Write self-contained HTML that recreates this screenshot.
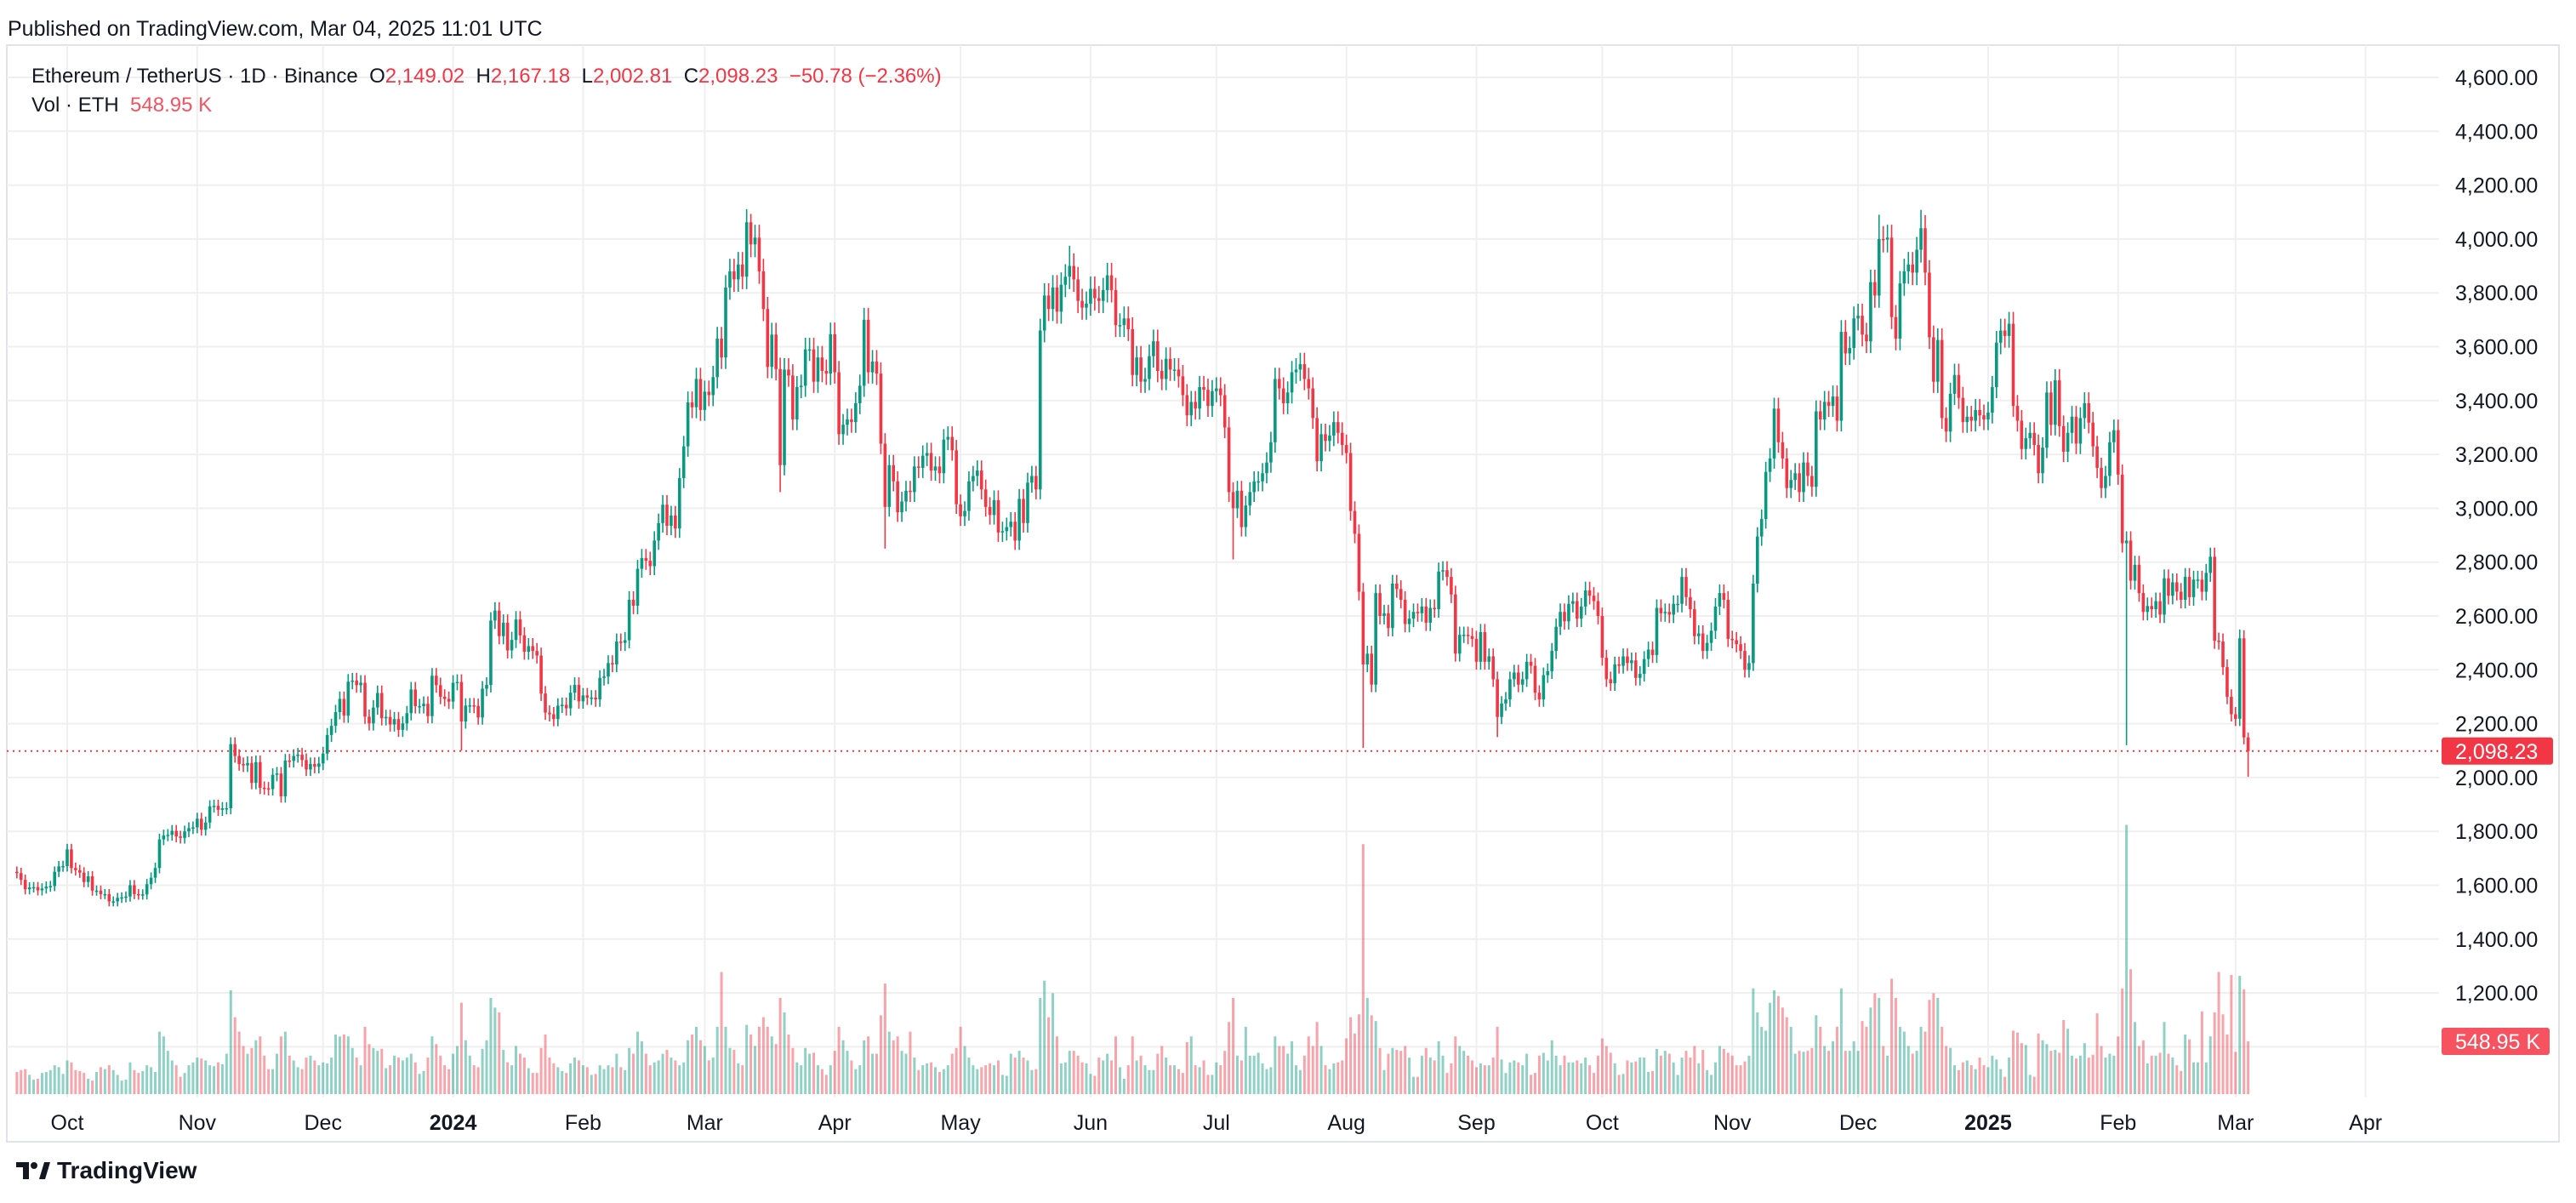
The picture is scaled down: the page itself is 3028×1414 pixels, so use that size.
<!DOCTYPE html>
<html><head><meta charset="utf-8">
<style>
html,body{margin:0;padding:0;background:#fff;}
body{width:3028px;height:1414px;overflow:hidden;position:relative;font-family:"Liberation Sans",Arial,sans-serif;color:#131722;}
#hdr{position:absolute;left:9px;top:20px;font-size:25px;}
#legend1{position:absolute;left:37px;top:76px;font-size:24px;white-space:nowrap;}
#legend2{position:absolute;left:37px;top:110px;font-size:24px;white-space:nowrap;}
.r{color:#F23645;}
svg{position:absolute;left:0;top:0;}
#footer{position:absolute;left:19px;top:1360px;font-size:28px;font-weight:bold;display:flex;align-items:center;gap:8px;}
</style></head>
<body>
<div id="hdr">Published on TradingView.com, Mar 04, 2025 11:01 UTC</div>
<svg id="chart" width="3028" height="1414"></svg>
<div id="legend1">Ethereum / TetherUS · 1D · Binance&nbsp;&nbsp;O<span class="r">2,149.02</span>&nbsp;&nbsp;H<span class="r">2,167.18</span>&nbsp;&nbsp;L<span class="r">2,002.81</span>&nbsp;&nbsp;C<span class="r">2,098.23</span>&nbsp;&nbsp;<span class="r">−50.78 (−2.36%)</span></div>
<div id="legend2">Vol · ETH&nbsp;&nbsp;<span style="color:#F7525F">548.95 K</span></div>
<div id="footer"><svg width="40" height="24" style="position:static" viewBox="0 0 40 24"><rect x="0" y="2" width="15" height="6" fill="#131722"/><rect x="8" y="2" width="7" height="20" fill="#131722"/><circle cx="21" cy="6" r="4" fill="#131722"/><polygon points="27,22 33,2 40,2 34,22" fill="#131722"/></svg><span>TradingView</span></div>
<script>
// ---- data (closes in USDT, volume in K ETH), daily from 2023-09-19 ----
const closesSep23=[1645,1620,1585,1592,1593,1581,1588,1595,1597,1650,1670,1671];
const closesOct23=[1733,1664,1656,1647,1612,1633,1580,1580,1567,1567,1540,1540,1553,1555,1558,1600,1567,1565,1566,1604,1628,1664,1770,1785,1787,1802,1781,1776,1800,1812,1815];
const closesNov23=[1847,1806,1833,1893,1895,1880,1886,1886,2124,2080,2050,2045,2054,1980,2057,1962,1960,1957,2010,2015,1930,2063,2062,2080,2085,2065,2030,2050,2040,2052];
const closesDec23=[2089,2158,2192,2243,2292,2230,2356,2360,2343,2352,2226,2201,2260,2314,2220,2225,2197,2217,2177,2201,2239,2327,2265,2265,2274,2228,2378,2343,2300,2292,2282];
const closesJan24=[2352,2355,2208,2267,2268,2266,2223,2330,2344,2583,2620,2525,2575,2472,2511,2587,2528,2467,2488,2470,2453,2312,2241,2235,2217,2267,2270,2257,2315,2344,2283];
const closesFeb24=[2305,2297,2297,2290,2370,2375,2425,2420,2505,2500,2510,2660,2638,2775,2815,2805,2785,2880,2945,3013,2935,2973,2925,3112,3230,3393,3375,3480,3365];
const closesMar24=[3433,3420,3487,3630,3560,3820,3880,3850,3905,3860,4062,3980,4005,3880,3740,3525,3645,3517,3160,3515,3493,3330,3450,3455,3590,3590,3470,3560,3510,3500,3646];
const closesApr24=[3505,3275,3310,3330,3320,3390,3455,3700,3505,3545,3500,3240,3005,3160,3100,2985,3025,3065,3060,3155,3150,3195,3205,3140,3155,3130,3255,3265,3215,3015];
const closesMay24=[2970,2990,3100,3120,3140,3070,3005,2975,3030,2910,2915,2930,2950,2880,3035,2945,3095,3120,3070,3660,3790,3740,3820,3730,3830,3860,3900,3850,3770,3745,3760];
const closesJun24=[3815,3780,3770,3810,3865,3810,3680,3680,3705,3665,3495,3560,3470,3480,3565,3620,3510,3480,3555,3515,3515,3490,3420,3345,3395,3370,3450,3440,3380,3435];
const closesJul24=[3445,3420,3300,3060,3000,3065,2930,3010,3060,3100,3100,3130,3170,3245,3480,3445,3390,3430,3505,3515,3535,3480,3445,3335,3175,3275,3250,3270,3320,3280,3235];
const closesAug24=[3205,2990,2905,2690,2420,2460,2345,2685,2600,2610,2555,2720,2700,2660,2570,2590,2615,2610,2635,2575,2630,2625,2765,2770,2745,2680,2460,2530,2530,2525,2515];
const closesSep24=[2430,2540,2430,2450,2365,2225,2275,2290,2365,2390,2345,2365,2430,2415,2315,2290,2380,2395,2470,2560,2615,2580,2645,2655,2590,2635,2695,2675,2655,2600];
const closesOct24=[2445,2365,2350,2420,2415,2450,2425,2435,2370,2385,2440,2475,2455,2630,2610,2615,2605,2645,2645,2745,2670,2625,2525,2535,2470,2500,2545,2635,2685,2660,2515];
const closesNov24=[2510,2495,2470,2400,2425,2720,2895,2960,3135,3185,3370,3245,3185,3075,3105,3130,3060,3170,3120,3080,3360,3330,3395,3380,3415,3325,3655,3575,3595,3705];
const closesDec24=[3715,3645,3620,3840,3790,4000,3998,4005,3710,3630,3835,3880,3905,3875,3960,4040,3875,3635,3470,3625,3335,3285,3425,3495,3410,3320,3340,3325,3365,3345,3330];
const closesJan25=[3355,3450,3615,3660,3640,3685,3380,3325,3220,3260,3280,3235,3130,3225,3430,3310,3475,3305,3210,3280,3340,3240,3335,3390,3318,3230,3150,3075,3120,3245,3290];
const closesFeb25=[3125,2870,2880,2731,2790,2685,2615,2637,2625,2655,2605,2740,2675,2725,2690,2660,2745,2670,2735,2735,2690,2760,2820,2508,2505,2410,2300,2235];
const closesMar25=[2218,2517,2149,2098.23];
const firstOpen=1650;
const volSep23=[230,250,260,200,150,160,220,230,250,300,280,210];
const volOct23=[350,330,250,240,220,160,140,230,280,260,300,250,200,140,150,330,250,220,240,300,280,230,650,600,450,350,300,180,220,300,330];
const volNov23=[380,370,350,300,290,330,310,420,1080,800,650,500,420,480,560,600,400,260,260,420,600,650,400,350,280,260,380,400,350,300];
const volDec23=[330,320,380,620,600,620,600,480,380,300,700,520,480,450,470,270,300,400,380,350,380,420,330,210,240,380,600,520,400,300,260];
const volJan24=[420,500,950,560,400,300,280,470,560,1000,900,850,460,330,300,500,420,380,270,220,220,480,620,380,320,280,240,220,320,380,350];
const volFeb24=[300,280,200,210,300,260,300,280,420,280,250,480,420,650,550,420,300,330,350,420,460,380,350,300,330,560,620,700,560];
const volMar24=[500,350,380,700,1270,700,480,460,320,300,720,620,500,700,800,700,600,520,1000,850,620,480,330,300,480,420,430,300,260,200,300];
const volApr24=[450,700,560,450,350,260,300,560,600,420,420,820,1150,650,560,600,450,420,650,380,250,300,320,330,280,230,260,300,420,480];
const volMay24=[700,500,380,300,260,280,300,320,300,350,200,190,420,380,450,380,350,250,260,1000,1180,800,1050,600,320,330,450,450,400,330,320];
const volJun24=[210,190,380,350,420,350,600,280,160,300,600,350,400,300,250,250,420,500,380,300,300,260,220,540,600,300,280,350,200,200];
const volJul24=[330,300,450,750,1000,400,350,700,400,400,430,320,260,280,600,500,500,420,550,300,250,400,600,500,750,500,300,260,320,330,350];
const volAug24=[580,800,630,830,2600,1000,820,760,480,250,420,480,460,450,500,380,180,180,400,480,380,350,550,400,220,320,600,500,450,400,350];
const volSep24=[280,320,300,300,380,700,360,220,330,350,330,300,420,200,220,400,430,350,560,400,300,400,330,330,350,320,380,300,220,400];
const volOct24=[580,500,430,320,200,210,350,330,340,380,380,230,240,470,400,450,420,330,200,380,450,380,500,320,460,250,200,330,500,470,430];
const volNov24=[400,300,300,340,400,1100,850,700,660,950,1080,1020,900,800,700,420,450,440,450,480,820,700,500,450,550,700,1100,450,450,550];
const volDec24=[450,760,700,900,1050,1000,500,400,1200,1000,700,650,500,420,450,700,650,980,1050,1000,700,500,480,300,250,330,350,300,260,380,300];
const volJan25=[280,400,360,260,180,380,660,640,530,510,200,180,630,560,520,450,460,430,770,680,400,370,400,530,380,410,840,500,380,420,400];
const volFeb25=[600,1100,2800,1300,750,500,560,320,400,400,430,750,420,380,300,240,620,570,330,330,860,330,600,850,1270,830,620,1240];
const volMar25=[440,1230,1090,549];
const highOverrides=[["2024-03-12",4093],["2024-05-27",3975],["2024-12-16",4108],["2024-12-06",4090],["2025-03-02",2550],["2025-03-04",2167]];
const lowOverrides=[["2024-01-03",2100],["2024-04-13",2850],["2024-07-05",2810],["2024-08-05",2110],["2024-09-06",2150],["2025-02-03",2120],["2025-03-04",2003],["2024-03-19",3060]];
const priceTicks=[1000,1200,1400,1600,1800,2000,2200,2400,2600,2800,3000,3200,3400,3600,3800,4000,4200,4400,4600];
const monthLabels=[["2023-10-01","Oct"],["2023-11-01","Nov"],["2023-12-01","Dec"],["2024-01-01","2024"],["2024-02-01","Feb"],["2024-03-01","Mar"],["2024-04-01","Apr"],["2024-05-01","May"],["2024-06-01","Jun"],["2024-07-01","Jul"],["2024-08-01","Aug"],["2024-09-01","Sep"],["2024-10-01","Oct"],["2024-11-01","Nov"],["2024-12-01","Dec"],["2025-01-01","2025"],["2025-02-01","Feb"],["2025-03-01","Mar"],["2025-04-01","Apr"]];
const lastPrice=2098.23, lastVol=549;

const closes=[].concat(closesSep23,closesOct23,closesNov23,closesDec23,closesJan24,closesFeb24,closesMar24,closesApr24,closesMay24,closesJun24,closesJul24,closesAug24,closesSep24,closesOct24,closesNov24,closesDec24,closesJan25,closesFeb25,closesMar25);
const vols=[].concat(volSep23,volOct23,volNov23,volDec23,volJan24,volFeb24,volMar24,volApr24,volMay24,volJun24,volJul24,volAug24,volSep24,volOct24,volNov24,volDec24,volJan25,volFeb25,volMar25);

const NS="http://www.w3.org/2000/svg";
const svg=document.getElementById('chart');
const PL=8,PR=2867,PT=53,PB=1290,FR=3008,FB=1342;
const start=Date.UTC(2023,8,19);
function dayOf(s){const p=s.split('-');return (Date.UTC(+p[0],p[1]-1,+p[2])-start)/864e5;}
function xOf(i){return 79+(i-12)*4.93;}
function yOf(p){return 91+(4600-p)/200*63.3;}
function vH(v){return v*0.113;}
const VB=1286;
function el(t,a,p){const e=document.createElementNS(NS,t);for(const k in a)e.setAttribute(k,a[k]);(p||svg).appendChild(e);return e;}

const frame=el('rect',{x:PL,y:PT,width:FR-PL,height:FB-PT,fill:'none',stroke:'#e0e3eb','stroke-width':2});

priceTicks.forEach(p=>{
  const y=yOf(p);
  const g=el('line',{x1:PL,x2:PR,y1:y,y2:y,stroke:'#efefef','stroke-width':2});
  
  if(p!==1000){
  const t=el('text',{x:2886,y:y+9,'font-size':25,fill:'#131722','font-family':'Liberation Sans, sans-serif'});
  t.textContent=p.toLocaleString('en-US',{minimumFractionDigits:2});
  }
});
monthLabels.forEach(([d,l])=>{
  const x=xOf(dayOf(d));
  const g=el('line',{x1:x,x2:x,y1:PT,y2:PB,stroke:'#efefef','stroke-width':2});
  
  const t=el('text',{x:x,y:1328,'font-size':25,fill:'#131722','text-anchor':'middle','font-weight':(l.length===4&&/\d/.test(l))?'bold':'normal','font-family':'Liberation Sans, sans-serif'});
  t.textContent=l;
  
});
const highMap={},lowMap={};
highOverrides.forEach(([d,v])=>highMap[dayOf(d)]=v);
lowOverrides.forEach(([d,v])=>lowMap[dayOf(d)]=v);
closes.forEach((c,i)=>{
  const o=i===0?firstOpen:closes[i-1];
  const up=c>=o;
  const x=xOf(i);
  const h=vH(vols[i]);
  const b=el('rect',{x:x-1.5,y:VB-h,width:3,height:h,fill:up?'rgba(8,153,129,0.45)':'rgba(242,54,69,0.45)'});
  
});
closes.forEach((c,i)=>{
  const o=i===0?firstOpen:closes[i-1];
  const up=c>=o;
  const col=up?'#089981':'#F23645';
  const x=xOf(i);
  const hi=highMap[i]!==undefined?highMap[i]:Math.max(o,c)*1.012;
  const lo=lowMap[i]!==undefined?lowMap[i]:Math.min(o,c)*0.988;
  const w=el('line',{x1:x,x2:x,y1:yOf(hi),y2:yOf(lo),stroke:col,'stroke-width':1.6});
  
  const yt=yOf(Math.max(o,c)),yb=yOf(Math.min(o,c));
  const r=el('rect',{x:x-1.8,y:yt,width:3.6,height:Math.max(1.5,yb-yt),fill:col});
  
});
const ly=yOf(lastPrice);
const dl=el('line',{x1:PL,x2:PR,y1:ly,y2:ly,stroke:'#F23645','stroke-width':2,'stroke-dasharray':'2 5'});

const pb=el('rect',{x:2870,y:ly-16,width:131,height:32,rx:3,fill:'#F23645'});

const pt=el('text',{x:2886,y:ly+9,'font-size':25,fill:'#fff','font-family':'Liberation Sans, sans-serif'});
pt.textContent='2,098.23';
const vy=VB-vH(lastVol);
const vb=el('rect',{x:2870,y:vy-16,width:127,height:32,rx:3,fill:'#F7525F'});

const vt=el('text',{x:2886,y:vy+9,'font-size':25,fill:'#fff','font-family':'Liberation Sans, sans-serif'});
vt.textContent='548.95 K';
</script>
</body></html>
